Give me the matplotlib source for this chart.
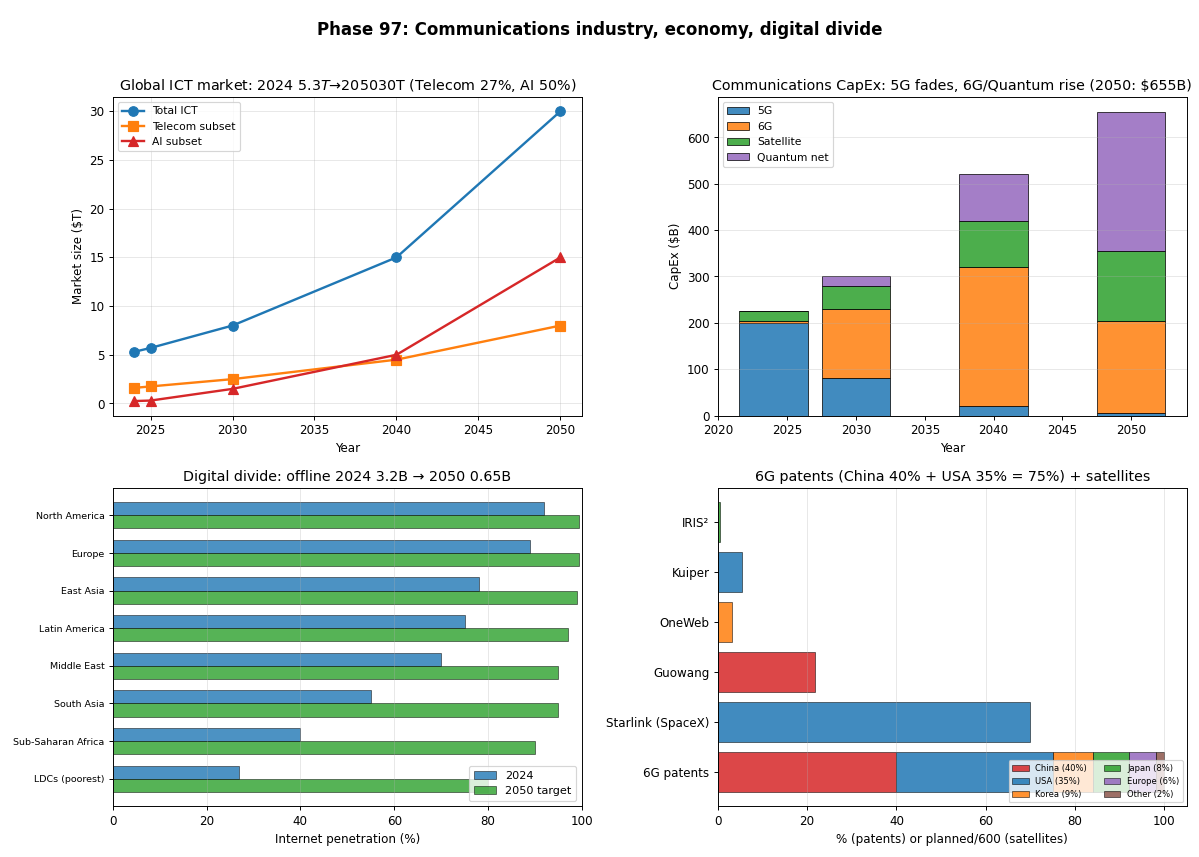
import matplotlib.pyplot as plt
import numpy as np

# top-left: ICT market ($T)
years = [2024, 2025, 2030, 2040, 2050]
total_ict = [5.3, 5.7, 8.0, 15.0, 30.0]
telecom = [1.6, 1.75, 2.5, 4.5, 8.0]
ai = [0.25, 0.3, 1.5, 5.0, 15.0]

# top-right: CapEx ($B)
capex_years = [2024, 2030, 2040, 2050]
capex_5g = [200, 80, 20, 5]
capex_6g = [5, 150, 300, 200]
capex_sat = [20, 50, 100, 150]
capex_quantum = [0, 20, 100, 300]

# bottom-left: internet penetration (%)
regions = ['North America', 'Europe', 'East Asia', 'Latin America', 'Middle East',
           'South Asia', 'Sub-Saharan Africa', 'LDCs (poorest)']
pen_2024 = [92, 89, 78, 75, 70, 55, 40, 27]
pen_2050 = [99.5, 99.5, 99, 97, 95, 95, 90, 80]

# bottom-right: 6G patents + satellite constellations
patent_labels = ['China (40%)', 'USA (35%)', 'Korea (9%)', 'Japan (8%)', 'Europe (6%)', 'Other (2%)']
patent_shares = [40, 35, 9, 8, 6, 2]
patent_colors = ['#d62728', '#1f77b4', '#ff7f0e', '#2ca02c', '#9467bd', '#8c564b']
sat_names = ['Starlink (SpaceX)', 'Guowang', 'OneWeb', 'Kuiper', 'IRIS²']
sat_values = [70, 21.7, 3.2, 5.4, 0.5]
sat_colors = ['#1f77b4', '#d62728', '#ff7f0e', '#1f77b4', '#2ca02c']

fig, axes = plt.subplots(2, 2, figsize=(14, 10), dpi=85.714)
fig.suptitle('Phase 97: Communications industry, economy, digital divide',
             fontsize=14, fontweight='bold', y=0.975)
fig.subplots_adjust(left=0.094, right=0.989, top=0.887, bottom=0.059, wspace=0.29, hspace=0.226)

# market size
ax = axes[0, 0]
ax.plot(years, total_ict, 'o-', color='#1f77b4', linewidth=2, markersize=8, label='Total ICT')
ax.plot(years, telecom, 's-', color='#ff7f0e', linewidth=2, markersize=8, label='Telecom subset')
ax.plot(years, ai, '^-', color='#d62728', linewidth=2, markersize=8, label='AI subset')
ax.set_title('Global ICT market: 2024 $5.3T→2050$30T (Telecom 27%, AI 50%)')
ax.set_xlabel('Year')
ax.set_ylabel('Market size ($T)')
ax.grid(True, alpha=0.3)
ax.legend(loc='upper left', fontsize=9)

# capex stacked bars
ax = axes[0, 1]
w = 5
bottom = np.zeros(len(capex_years))
for vals, lab, col in [(capex_5g, '5G', '#1f77b4'), (capex_6g, '6G', '#ff7f0e'),
                       (capex_sat, 'Satellite', '#2ca02c'), (capex_quantum, 'Quantum net', '#9467bd')]:
    ax.bar(capex_years, vals, w, bottom=bottom, label=lab, color=col, alpha=0.85, edgecolor='black', linewidth=0.7)
    bottom += np.array(vals)
ax.set_title('Communications CapEx: 5G fades, 6G/Quantum rise (2050: $655B)')
ax.set_xlabel('Year')
ax.set_ylabel('CapEx ($B)')
ax.grid(True, axis='y', alpha=0.3)
ax.legend(loc='upper left', fontsize=9)

# digital divide
ax = axes[1, 0]
y = np.arange(len(regions))
h = 0.35
ax.barh(y - h / 2, pen_2024, h, label='2024', color='#1f77b4', alpha=0.8, edgecolor='black', linewidth=0.5)
ax.barh(y + h / 2, pen_2050, h, label='2050 target', color='#2ca02c', alpha=0.8, edgecolor='black', linewidth=0.5)
ax.set_yticks(y)
ax.set_yticklabels(regions, fontsize=8)
ax.invert_yaxis()
ax.set_xlim(0, 100)
ax.set_xlabel('Internet penetration (%)')
ax.set_title('Digital divide: offline 2024 3.2B → 2050 0.65B')
ax.grid(True, axis='x', alpha=0.3)
ax.legend(loc='lower right', fontsize=9.5)

# patents + satellites
ax = axes[1, 1]
left = 0
for share, lab, col in zip(patent_shares, patent_labels, patent_colors):
    ax.barh(0, share, left=left, color=col, alpha=0.85, edgecolor='black', linewidth=0.5, label=lab)
    left += share
ax.barh(np.arange(1, len(sat_names) + 1), sat_values, color=sat_colors, alpha=0.85,
        edgecolor='black', linewidth=0.5)
ax.set_yticks(np.arange(len(sat_names) + 1))
ax.set_yticklabels(['6G patents'] + sat_names)
ax.set_xlabel('% (patents) or planned/600 (satellites)')
ax.set_title('6G patents (China 40% + USA 35% = 75%) + satellites')
ax.grid(True, axis='x', alpha=0.3)
ax.legend(loc='lower right', fontsize=7, ncol=2)

plt.savefig('out.png', dpi=85.714)
